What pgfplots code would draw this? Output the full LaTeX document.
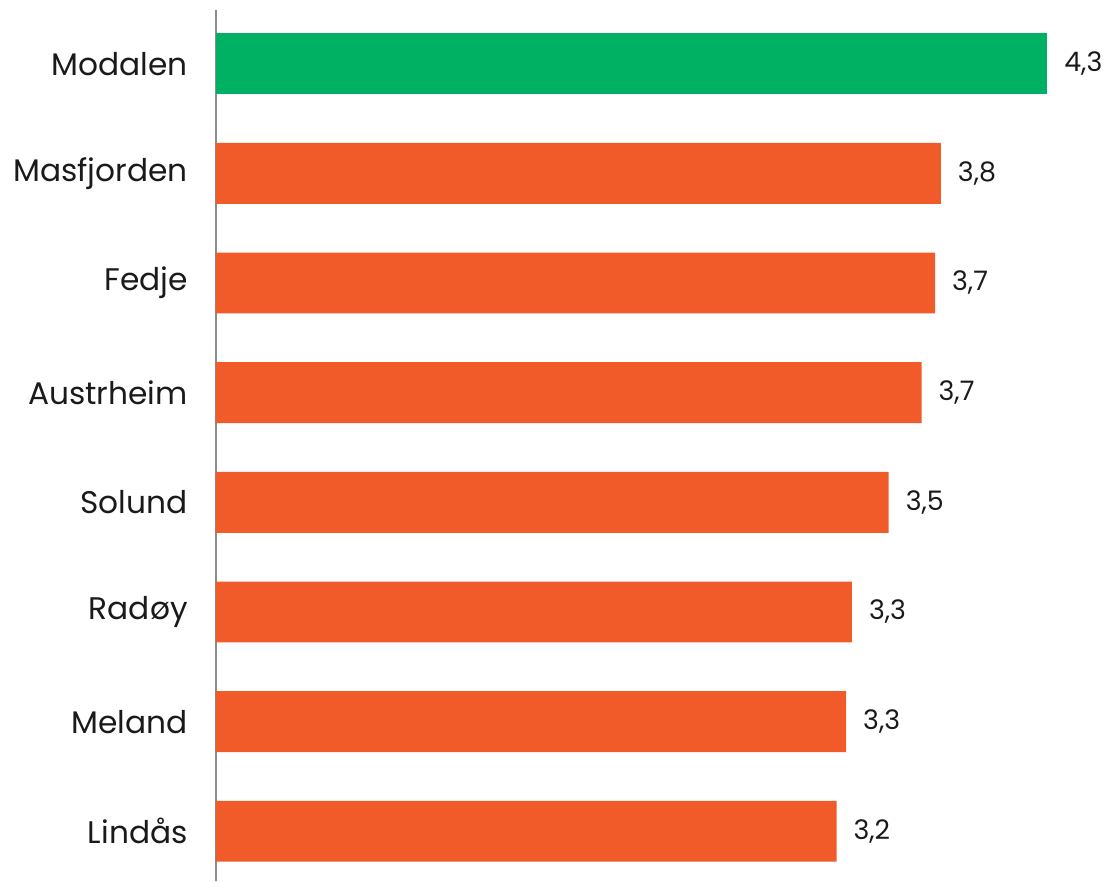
\documentclass[border=0pt]{standalone}
\usepackage{pgfplots}
\pgfplotsset{compat=1.18}
\usepackage{pgfplotstable}
\usepackage{fontspec}
\setmainfont{Poppins}

\definecolor{barorange}{HTML}{F15A29}
\definecolor{bargreen}{HTML}{00B163}
\definecolor{txt}{HTML}{1A1A1A}

% position (0 = bottom), value, printed label
\pgfplotstableread{
pos value label
7 4.30 4,3
}\top
\pgfplotstableread{
pos value label
6 3.75 3,8
5 3.72 3,7
4 3.65 3,7
3 3.48 3,5
2 3.29 3,3
1 3.26 3,3
0 3.21 3,2
}\rest

\begin{document}
\begin{tikzpicture}
\begin{axis}[
  xbar, bar shift=0pt, scale only axis,
  width=416.5bp, height=436bp,
  xmin=0, xmax=4.3, ymin=-0.45, ymax=7.49,
  bar width=30.5bp,
  hide x axis,
  axis y line*=left,
  y axis line style={draw=black!45, line width=0.9bp},
  ytick={0,...,7},
  yticklabels={Lindås,Meland,Radøy,Solund,Austrheim,Fedje,Masfjorden,Modalen},
  major tick length=0pt,
  yticklabel style={font=\fontsize{15.7}{18}\selectfont, text=txt, xshift=-10.5bp},
  point meta=explicit symbolic,
  nodes near coords,
  every node near coord/.append style={font=\fontsize{13.5}{16}\selectfont, text=txt, anchor=west, xshift=5bp},
  clip=false,
]
\addplot[draw=none, fill=bargreen] table[x=value, y=pos, meta=label] {\top};
\addplot[draw=none, fill=barorange] table[x=value, y=pos, meta=label] {\rest};
\end{axis}
\path ([xshift=-108bp]current axis.south west) rectangle ([xshift=30bp, yshift=5bp]current axis.north east);
\end{tikzpicture}
\end{document}
